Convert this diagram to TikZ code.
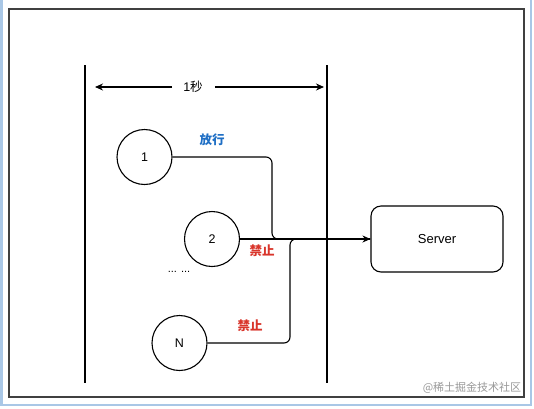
\documentclass[tikz,border=0pt]{standalone}
\usepackage{fontspec}
\setmainfont{Liberation Sans}
\newfontfamily\cjk{Noto Sans CJK SC}
\usetikzlibrary{arrows.meta}
\definecolor{passblue}{HTML}{1F6FC5}
\definecolor{stopred}{HTML}{D9352B}
\definecolor{frameblue}{HTML}{A9C7E6}
\tikzset{
  client/.style={circle,draw,line width=1.1pt,minimum size=55pt,inner sep=0pt,font=\fontsize{12.5}{14}\selectfont},
  serverbox/.style={draw,line width=1.1pt,rounded corners=10pt,minimum width=132pt,minimum height=66pt,font=\fontsize{13}{15}\selectfont},
  conn/.style={line width=1.1pt,rounded corners=6pt},
  tip/.style={-{Stealth[length=8pt,width=7pt]}},
  lbl/.style={font=\cjk\bfseries\fontsize{12.5}{14}\selectfont},
}
\begin{document}
\begin{tikzpicture}[x=1pt,y=-1pt]
\useasboundingbox (0,0) rectangle (534,408);
\fill[white] (0,0) rectangle (534,408);
% screenshot frame
\draw[frameblue,line width=2.5pt] (1.25,-10) -- (1.25,405) -- (531,405) -- (531,-10);
% outer frame
\draw[black!75,line width=1.4pt] (9,9) rectangle (524,397);
% time window lines
\coordinate (v1t) at (85,65); \coordinate (v1b) at (85,383);
\coordinate (v2t) at (327,65); \coordinate (v2b) at (327,383);
\draw[line width=1.1pt] (v1t) -- (v1b);
\draw[line width=1.1pt] (v2t) -- (v2b);
% 1 second arrow
\node[font=\fontsize{12.5}{14}\selectfont,inner sep=0pt] (sec) at (193,87) {1{\cjk 秒}};
\coordinate (secl) at (95,87); \coordinate (secr) at (324,87);
\draw[line width=1.1pt,tip] ([xshift=-11pt]sec.west) -- (secl);
\draw[line width=1.1pt,tip] ([xshift=12pt]sec.east) -- (secr);
% clients
\node[client] (c1) at (144.5,157) {1};
\node[client] (c2) at (212,239) {2};
\node[client] (cN) at (179.5,343) {N};
\node[font=\fontsize{11}{13}\selectfont] (dots) at (179,272) {... ...};
% server
\node[serverbox] (s) at (437,239) {Server};
% connectors
\coordinate (j1) at (272,0);
\coordinate (jN) at (290,0);
\draw[conn,tip] (c1.east) -| (j1 |- s.west) -- (s.west);
\draw[conn] (c2.east) -- (s.west);
\draw[conn] (cN.east) -| (jN |- s.west) -- (s.west);
% labels
\node[lbl,text=passblue] (l1) at (212,140) {放行};
\node[lbl,text=stopred] (l2) at (262,251) {禁止};
\node[lbl,text=stopred] (l3) at (250,326) {禁止};
% watermark
\node[font=\cjk\fontsize{11}{13}\selectfont,text=black!40] (wm) at (472,388) {@稀土掘金技术社区};
\end{tikzpicture}
\end{document}
